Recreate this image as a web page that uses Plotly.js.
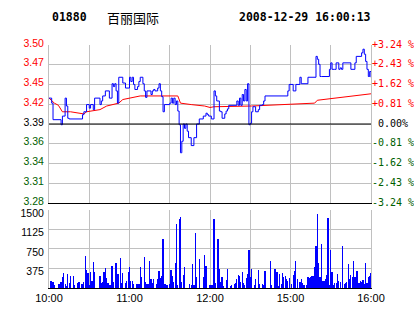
<!DOCTYPE html>
<html>
<head>
<meta charset="utf-8">
<script src="https://cdn.plot.ly/plotly-3.0.1.min.js"></script>
<style>html,body{margin:0;padding:0;background:#fff;}#chart{width:414px;height:314px;}</style>
</head>
<body>
<div id="chart"></div>
<script>
// ---- data ----
var stockCode = '01880';
var stockName = '百丽国际';
var stamp = '2008-12-29 16:00:13';
var prevClose = 3.39;
var priceLabels = ['3.50','3.47','3.45','3.42','3.39','3.36','3.34','3.31','3.28'];
var pctLabels = ['+3.24','+2.43','+1.62','+0.81','0.00','-0.81','-1.62','-2.43','-3.24'];
var volLabels = ['375','750','1125','1500'];
var timeLabels = ['10:00','11:00','12:00','15:00','16:00'];
var timeLabelMinutes = [0, 60, 120, 180, 240];
var gridMinutes = [0, 30, 60, 90, 120, 150, 180, 210, 240];

// price change points: minute index, price
var priceMin = [0,2,3,9,10,12,13,14,15,25,26,28,30,31,33,34,38,39,40,42,45,47,48,49,50,51,52,55,57,60,61,62,63,64,66,67,68,70,71,72,73,76,77,78,79,81,82,83,84,85,86,90,91,92,93,94,95,96,97,98,99,100,101,102,103,104,106,108,110,112,115,117,118,119,121,123,124,125,127,128,129,131,132,133,134,140,141,142,143,144,145,146,147,148,149,150,151,152,154,156,157,159,160,161,178,179,182,184,187,188,193,199,200,201,202,203,209,210,211,213,214,216,217,218,219,225,228,229,233,234,235,236,237,238,239,240];
var priceVal = [3.426,3.419,3.396,3.389,3.401,3.426,3.415,3.398,3.397,3.403,3.407,3.417,3.412,3.417,3.410,3.426,3.417,3.422,3.429,3.436,3.426,3.446,3.442,3.446,3.436,3.419,3.455,3.447,3.440,3.455,3.449,3.455,3.445,3.438,3.442,3.449,3.455,3.446,3.436,3.427,3.436,3.431,3.436,3.438,3.436,3.440,3.446,3.436,3.428,3.407,3.417,3.419,3.426,3.419,3.426,3.417,3.422,3.408,3.389,3.350,3.366,3.390,3.384,3.390,3.380,3.371,3.360,3.371,3.390,3.397,3.401,3.405,3.403,3.401,3.397,3.436,3.429,3.422,3.408,3.407,3.398,3.404,3.408,3.411,3.416,3.422,3.416,3.426,3.416,3.431,3.422,3.438,3.422,3.446,3.389,3.391,3.407,3.414,3.407,3.410,3.416,3.417,3.422,3.429,3.436,3.445,3.436,3.445,3.455,3.446,3.455,3.484,3.480,3.473,3.456,3.456,3.466,3.475,3.466,3.466,3.475,3.466,3.468,3.466,3.475,3.466,3.475,3.484,3.489,3.494,3.487,3.477,3.466,3.456,3.463,3.455];

// average price line
var avgMin = [0,4,7,10,16,21,26,28,33,38,43,48,52,55,61,68,96,98,106,116,120,123,151,163,176,186,198,200,213,226,238,240];
var avgVal = [3.426,3.419,3.416,3.407,3.407,3.405,3.404,3.407,3.408,3.410,3.415,3.417,3.419,3.424,3.426,3.429,3.429,3.419,3.417,3.415,3.413,3.414,3.415,3.416,3.417,3.418,3.419,3.423,3.426,3.429,3.432,3.432];

// volume per minute (index = minute since 10:00, trading minutes only)
var volume = [
0,140,140,115,64,0,0,83,83,115,
216,286,76,45,273,95,222,0,235,64,
0,89,121,121,83,83,115,617,350,286,
64,312,140,502,312,0,0,0,235,89,
115,312,388,197,95,64,64,426,121,0,
483,273,260,579,102,292,0,95,140,312,
407,140,140,83,0,83,83,83,407,216,
0,598,121,83,83,522,178,102,178,0,
76,178,331,197,235,948,83,83,64,0,
83,350,235,121,483,1227,64,1329,1361,121,
254,407,0,0,0,83,64,464,64,1056,
216,0,560,0,0,216,636,426,0,0,
64,64,64,1323,102,0,948,369,121,216,
45,0,159,369,0,45,64,0,83,102,
178,254,235,121,312,102,64,197,273,731,
216,369,0,64,178,0,350,83,0,83,
64,331,0,0,0,522,64,0,369,369,
312,45,273,83,292,216,235,178,140,197,
0,83,254,331,522,178,0,121,178,102,
64,0,64,216,197,216,235,235,407,808,
1418,483,216,846,140,140,178,254,1342,64,
731,312,64,102,102,273,140,121,0,808,
83,102,121,464,178,254,216,522,216,331,
331,102,140,121,159,83,483,102,216,235,
292];

// ---- build ----
var RED = '#ff0000', GREEN = '#006000', BLACK = '#000000', GRID = '#c0c0c0';
var volMin = volume.map(function(v, i){ return i; });
var pctNum = pctLabels.map(function(s){ return parseFloat(s); });
var tickVals = pctNum.map(function(p){ return prevClose * (1 + p / 100); });
var colorFor = function(p){ return p > 0 ? RED : (p < 0 ? GREEN : BLACK); };
var leftText = priceLabels.map(function(s, i){
  return '<span style="color:' + colorFor(pctNum[i]) + '">' + s + '</span>';
});
var rightText = pctLabels.map(function(s, i){
  var t = pctNum[i] === 0 ? '\u00a0' + s + '%' : s + ' %';
  return '<span style="color:' + colorFor(pctNum[i]) + '">' + t + '</span>';
});
var pRange = [prevClose * (1 + pctNum[pctNum.length - 1] / 100), prevClose * (1 + pctNum[0] / 100)];
var volTickVals = volLabels.map(Number);
var xTickText = gridMinutes.map(function(m){
  var k = timeLabelMinutes.indexOf(m);
  return k >= 0 ? timeLabels[k] : '';
});

var traces = [
  {x: avgMin, y: avgVal, type: 'scatter', mode: 'lines', line: {color: RED, width: 1}, xaxis: 'x', yaxis: 'y', hoverinfo: 'skip'},
  {x: priceMin, y: priceVal, type: 'scatter', mode: 'lines', line: {color: '#0000ff', width: 1, shape: 'hv'}, xaxis: 'x', yaxis: 'y', hoverinfo: 'skip'},
  {x: [0, 240], y: pRange, type: 'scatter', mode: 'none', xaxis: 'x', yaxis: 'y3', hoverinfo: 'skip'},
  {x: volMin, y: volume, type: 'bar', marker: {color: '#0000ff', line: {width: 0}}, width: 0.9, xaxis: 'x2', yaxis: 'y2', hoverinfo: 'skip'}
];

var sans = 'Liberation Sans, Arial, sans-serif';
var mono = 'DejaVu Sans Mono, monospace';
var layout = {
  width: 414, height: 314,
  margin: {l: 49, r: 43, t: 45, b: 26, pad: 0},
  paper_bgcolor: '#ffffff', plot_bgcolor: '#ffffff',
  showlegend: false,
  bargap: 0,
  xaxis: {anchor: 'y', domain: [0, 1], range: [0, 240], tickvals: gridMinutes, showticklabels: false,
          showgrid: true, gridcolor: GRID, gridwidth: 1, zeroline: false, showline: true, linecolor: BLACK, linewidth: 1, ticks: ''},
  yaxis: {domain: [0.3498, 1], range: pRange, tickvals: tickVals, ticktext: leftText, showgrid: true, gridcolor: GRID,
          zeroline: false, showline: true, linecolor: GRID, mirror: true, ticks: '', ticklabelstandoff: 2, ticklabelshift: -2,
          tickfont: {family: sans, size: 10.5, color: BLACK}},
  yaxis3: {overlaying: 'y', side: 'right', range: pRange, tickvals: tickVals, ticktext: rightText, showgrid: false,
           zeroline: false, showline: false, ticks: '', ticklabelstandoff: 0, ticklabelshift: -1, tickfont: {family: mono, size: 10, color: BLACK}},
  xaxis2: {anchor: 'y2', domain: [0, 1], range: [0, 240], tickvals: gridMinutes, ticktext: xTickText, showgrid: true, gridcolor: GRID,
           zeroline: false, showline: true, linecolor: BLACK, ticks: '', tickfont: {family: sans, size: 11, color: BLACK}},
  yaxis2: {domain: [0, 0.321], range: [0, 1500], tickvals: volTickVals, ticktext: volLabels, showgrid: true, gridcolor: GRID,
           zeroline: false, showline: true, linecolor: GRID, mirror: true, ticks: '', ticklabelstandoff: 2, ticklabelshift: 3,
           tickfont: {family: sans, size: 10.5, color: BLACK}},
  shapes: [{type: 'line', xref: 'x', yref: 'y', x0: 0, x1: 240, y0: prevClose, y1: prevClose, line: {color: BLACK, width: 1}}],
  annotations: [
    {text: '<b>' + stockCode + '</b>', xref: 'paper', yref: 'paper', x: 0.003, y: 1.115, xanchor: 'left', yanchor: 'middle', showarrow: false,
     font: {family: mono, size: 11.5, color: BLACK}},
    {text: stockName, xref: 'paper', yref: 'paper', x: 0.174, y: 1.115, xanchor: 'left', yanchor: 'middle', showarrow: false,
     font: {family: 'Noto Sans CJK SC', size: 13, color: BLACK}},
    {text: '<b>' + stamp + '</b>', xref: 'paper', yref: 'paper', x: 0.584, y: 1.115, xanchor: 'left', yanchor: 'middle', showarrow: false,
     font: {family: mono, size: 11.5, color: BLACK}}
  ]
};

Plotly.newPlot('chart', traces, layout, {staticPlot: true, displayModeBar: false});
</script>
</body>
</html>
